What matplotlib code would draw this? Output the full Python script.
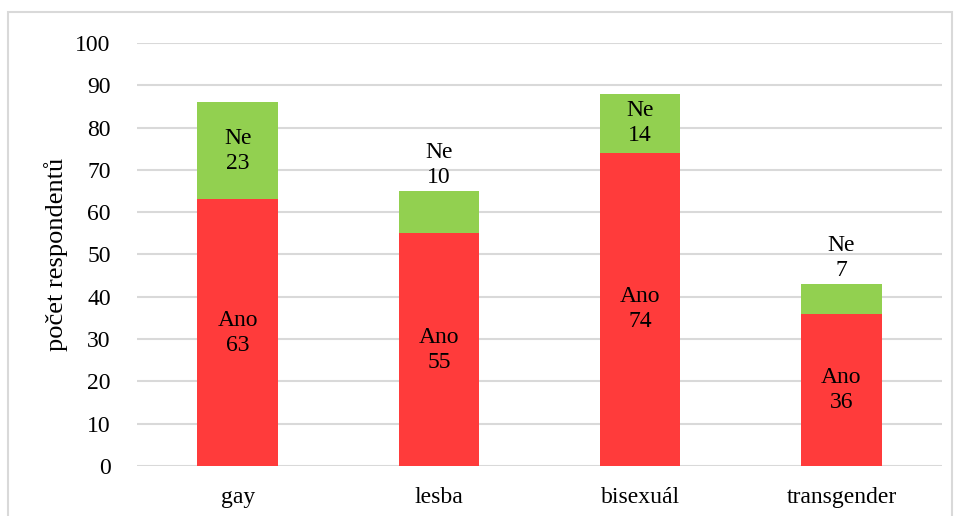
import matplotlib.pyplot as plt
from matplotlib.patches import Rectangle

kategorie = ['gay', 'lesba', 'bisexuál', 'transgender']
ano = [63, 55, 74, 36]
ne = [23, 10, 14, 7]
ne_nad = [False, True, False, True]  # popisek Ne nad sloupcem

plt.rcParams['font.family'] = ['Liberation Serif', 'DejaVu Serif']

fig = plt.figure(figsize=(9.55, 5.16), dpi=100)
ax = fig.add_axes([0.1435, 0.0969, 0.843, 0.8198])

fig.patches.append(Rectangle((8 / 955, -0.1), 944 / 955, 1 - 12 / 516 + 0.1,
                             transform=fig.transFigure, fill=False,
                             edgecolor='#D9D9D9', linewidth=1.5))

x = range(len(kategorie))
ax.bar(x, ano, width=0.4, color='#FF3B3B', zorder=3)
ax.bar(x, ne, width=0.4, bottom=ano, color='#92D050', zorder=3)

fs = 17
for i in x:
    ax.text(i, ano[i] / 2, f'Ano\n{ano[i]}', ha='center', va='center',
            fontsize=fs, linespacing=1.25, zorder=4)
    if ne_nad[i]:
        ax.text(i, ano[i] + ne[i] + 0.8, f'Ne\n{ne[i]}', ha='center', va='bottom',
                fontsize=fs, linespacing=1.25, zorder=4)
    else:
        ax.text(i, ano[i] + ne[i] / 2, f'Ne\n{ne[i]}', ha='center', va='center',
                fontsize=fs, linespacing=1.25, zorder=4)

ax.set_xlim(-0.5, 3.5)
ax.set_ylim(0, 100)
ax.set_yticks(range(0, 101, 10))
ax.set_xticks(list(x))
ax.set_xticklabels(kategorie)
ax.tick_params(length=0, labelsize=fs)
ax.tick_params(axis='x', pad=15)
ax.tick_params(axis='y', pad=19)
ax.grid(axis='y', color='#D9D9D9', linewidth=1.5, zorder=0)
for s in ax.spines.values():
    s.set_visible(False)
ax.set_ylabel('počet respondentů', fontsize=19, labelpad=5)

fig.savefig('out.png', dpi=100)
